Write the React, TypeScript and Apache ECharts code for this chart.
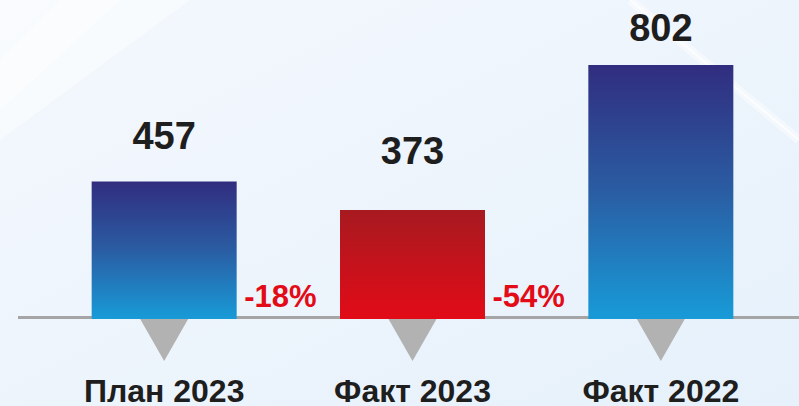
import React, { useEffect, useRef } from "react";
import * as echarts from "echarts";

const categories = ["План 2023", "Факт 2023", "Факт 2022"];
const values = [457, 373, 802];
const changeLabels = ["-18%", "-54%"];
const AXIS_MIN = 50;
const AXIS_MAX = 900;

const FONT = "'Liberation Sans', Arial, sans-serif";
// value labels in the reference sit at uneven heights above their bars
const valueLabelGap = [27, 40, 18];

const blueGrad = new echarts.graphic.LinearGradient(0, 0, 0, 1, [
  { offset: 0, color: "#312d7f" },
  { offset: 0.5, color: "#2a5da3" },
  { offset: 1, color: "#189bd8" },
]);
const redGrad = new echarts.graphic.LinearGradient(0, 0, 0, 1, [
  { offset: 0, color: "#a71a20" },
  { offset: 1, color: "#e20b17" },
]);

export default function App() {
  const ref = useRef<HTMLDivElement>(null);
  useEffect(() => {
    document.body.style.margin = "0";
    const chart = echarts.init(ref.current!, null, { renderer: "svg" });
    chart.setOption({
      animation: false,
      backgroundColor: new echarts.graphic.LinearGradient(0, 0, 1, 1, [
        { offset: 0, color: "#f4f8fd" },
        { offset: 1, color: "#e6f1fb" },
      ]),
      graphic: [
        {
          type: "polygon",
          z: -10,
          silent: true,
          shape: { points: [[0, 0], [190, 0], [0, 140]] },
          style: { fill: "rgba(255,255,255,0.45)" },
        },
        {
          type: "polygon",
          z: -10,
          silent: true,
          shape: { points: [[0, 60], [60, 0], [120, 0], [0, 110]] },
          style: { fill: "rgba(255,255,255,0.35)" },
        },
        {
          type: "line",
          z: -10,
          silent: true,
          shape: { x1: 630, y1: 0, x2: 799, y2: 140 },
          style: { stroke: "rgba(255,255,255,0.45)", lineWidth: 9 },
        },
        {
          type: "line",
          z: -10,
          silent: true,
          shape: { x1: 630, y1: 0, x2: 799, y2: 140 },
          style: { stroke: "rgba(255,255,255,0.7)", lineWidth: 2 },
        },
      ],
      grid: {
        left: 40,
        right: 14,
        top: 32,
        bottom: 87,
        containLabel: false,
        outerBoundsMode: "none",
      },
      xAxis: {
        type: "category",
        data: categories,
        axisTick: { show: false },
        axisLine: { show: false },
        axisLabel: {
          margin: 56,
          fontSize: 32,
          fontWeight: "bold",
          fontFamily: FONT,
          color: "#1e1e1e",
        },
      },
      yAxis: {
        type: "value",
        min: AXIS_MIN,
        max: AXIS_MAX,
        show: false,
        splitLine: { show: false },
      },
      series: [
        {
          type: "bar",
          barWidth: 145,
          data: values.map((v, i) => ({
            value: v,
            itemStyle: { color: i === 1 ? redGrad : blueGrad },
            label: { distance: valueLabelGap[i] },
          })),
          label: {
            show: true,
            position: "top",
            fontSize: 38,
            fontWeight: "bold",
            fontFamily: FONT,
            color: "#1e1e1e",
          },
          z: 3,
        },
        {
          // baseline running across the whole width
          type: "custom",
          clip: false,
          z: 1,
          data: [0],
          renderItem: (params: any, api: any) => {
            const p = api.coord([0, AXIS_MIN]);
            return {
              type: "line",
              shape: { x1: 18, y1: p[1] - 1.5, x2: api.getWidth(), y2: p[1] - 1.5 },
              style: { stroke: "#a5a5a5", lineWidth: 3 },
            };
          },
        },
        {
          type: "custom",
          clip: false,
          z: 1,
          data: categories.map((_, i) => i),
          renderItem: (params: any, api: any) => {
            const i = api.value(0);
            const p = api.coord([i, AXIS_MIN]);
            return {
              type: "polygon",
              shape: {
                points: [
                  [p[0] - 24, p[1]],
                  [p[0] + 24, p[1]],
                  [p[0], p[1] + 42],
                ],
              },
              style: { fill: "#b2b2b2" },
            };
          },
        },
        {
          type: "custom",
          clip: false,
          z: 4,
          data: changeLabels.map((_, i) => i),
          renderItem: (params: any, api: any) => {
            const i = api.value(0);
            const a = api.coord([i, AXIS_MIN]);
            const b = api.coord([i + 1, AXIS_MIN]);
            return {
              type: "text",
              x: (a[0] + b[0]) / 2 - 8,
              y: a[1] - 7,
              style: {
                text: changeLabels[i],
                fill: "#e30b17",
                fontSize: 31,
                fontWeight: "bold",
                fontFamily: FONT,
                align: "center",
                verticalAlign: "bottom",
              },
            };
          },
        },
      ],
    });
    return () => chart.dispose();
  }, []);
  return <div ref={ref} style={{ width: 799, height: 406 }} />;
}
